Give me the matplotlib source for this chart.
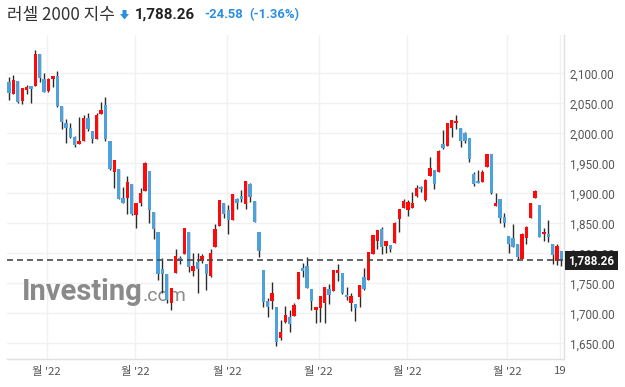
import matplotlib
matplotlib.use("Agg")
import matplotlib.pyplot as plt
from matplotlib.transforms import blended_transform_factory
from matplotlib.patches import Polygon

opens = [2085, 2066, 2086.7, 2054.3, 2072.7, 2078.8, 2079.3, 2132.2, 2090, 2071,
         2091, 2095.5, 2045.5, 2017, 2008.3, 1993.3, 1982.7, 1987.7, 2025.5, 2003.3,
         1991, 2032.7, 2047.2, 1987.2, 1935, 1940, 1892.2, 1892.7, 1915.5, 1864.3,
         1883.8, 1904.3, 1937.2, 1868.8, 1835.5, 1773.8, 1765.5, 1716.7, 1766.7, 1792.7,
         1798.8, 1835.5, 1771, 1785, 1787.2, 1782.2, 1762.7, 1811, 1846, 1883.3,
         1872.2, 1855.5, 1890, 1896, 1881.7, 1915.5, 1887.2, 1835.5, 1772.2, 1720.5,
         1721, 1711, 1659.3, 1685, 1693.3, 1696, 1723.3, 1775, 1779.3, 1740,
         1705.5, 1708.3, 1717.7, 1740, 1737.7, 1767.7, 1766.7, 1730.5, 1717.7, 1715.5,
         1726.7, 1760, 1755.5, 1798.8, 1821, 1840.5, 1812.7, 1813.8, 1816.7, 1856.7,
         1876, 1872.2, 1876, 1896, 1910, 1888.8, 1929.3, 1938.8, 1936, 1982.2,
         1979.3, 2008.3, 2016.7, 2008.3, 2000, 1991.7, 1932.2, 1921, 1919.3, 1944.3,
         1965.5, 1879.3, 1890.5, 1861, 1828.8, 1825.5, 1815.5, 1790.5, 1825, 1858.3,
         1891.7, 1880.5, 1831.7, 1832.2, 1815.5, 1787.7, 1804]
highs = [2093.3, 2097, 2086.7, 2075, 2080, 2078.8, 2138.8, 2132.2, 2100, 2091.7,
         2095.5, 2103.3, 2045.5, 2023.3, 2016.7, 1995, 2026.7, 2030.5, 2033.3, 2003.3,
         2033.3, 2051.7, 2061, 1987.2, 1955, 1940, 1910, 1928.8, 1915.5, 1883.8,
         1908.3, 1952.7, 1937.2, 1868.8, 1835.5, 1792.7, 1765.5, 1742.2, 1806.7, 1795.5,
         1841.7, 1835.5, 1800, 1800, 1799, 1782.2, 1807.7, 1848.8, 1888.8, 1883.3,
         1880.5, 1898.8, 1891.7, 1905.5, 1920.5, 1917.7, 1887.2, 1835.5, 1772.2, 1726,
         1752.7, 1711, 1688.8, 1712.7, 1705.5, 1716.7, 1769.3, 1783.3, 1794.5, 1740,
         1710, 1728.8, 1743.3, 1748.8, 1772.2, 1782.2, 1766.7, 1744.5, 1734.3, 1715.5,
         1747.2, 1775, 1801.7, 1830.5, 1838.8, 1843.3, 1820.5, 1813.8, 1852.7, 1873.8,
         1890, 1888.8, 1901.7, 1913.8, 1912.7, 1923.8, 1960, 1938.8, 1972.2, 2005.5,
         2016.7, 2022.2, 2030.5, 2008.3, 2002.7, 1991.7, 1936, 1938.8, 1938.8, 1965.5,
         1965.5, 1900, 1890.5, 1866.7, 1828.8, 1848.8, 1815.5, 1833.3, 1846, 1883.3,
         1905.5, 1880.5, 1842.7, 1855.5, 1815.5, 1815.5, 1804]
lows = [2055, 2066, 2051, 2048.3, 2065, 2050, 2079.3, 2085, 2069, 2068.3,
        2077, 2043.3, 2006.7, 1984.3, 1991.7, 1977.7, 1981.7, 1987.7, 2004.3, 1983.3,
        1991, 2032.7, 1987.7, 1938.8, 1909.3, 1890, 1883.8, 1866, 1863.8, 1841.7,
        1879.3, 1904.3, 1851, 1823.3, 1755.5, 1733.3, 1717.7, 1705.5, 1766.7, 1781.7,
        1798.8, 1769.3, 1762.2, 1733.3, 1783.3, 1738.8, 1761, 1811, 1846, 1858.3,
        1831.7, 1855.5, 1873.8, 1885, 1873.3, 1885, 1852.7, 1794.3, 1711, 1694.3,
        1706.7, 1645.5, 1655.5, 1683.3, 1668.3, 1696, 1723.3, 1760, 1741.7, 1705.5,
        1683.3, 1686, 1684.5, 1715, 1737.7, 1754.3, 1732, 1722.2, 1703.8, 1687.7,
        1711, 1738.8, 1755.5, 1798.8, 1806.7, 1798.3, 1801, 1802.7, 1816.7, 1835,
        1876, 1862.2, 1876, 1894.3, 1902.7, 1887.7, 1929.3, 1906.7, 1936, 1973.3,
        1979.3, 1994.3, 2006.7, 1976.7, 1983.3, 1952.7, 1912.7, 1916.7, 1919.3, 1944.3,
        1898.8, 1879.3, 1850, 1844.5, 1801, 1810, 1788.8, 1790.5, 1815.5, 1858.3,
        1891.7, 1827.7, 1820.5, 1819.3, 1782.2, 1780.5, 1779.3]
closes = [2066.7, 2088.8, 2052.2, 2075, 2077.2, 2074.3, 2132.2, 2091.7, 2069.3, 2090.5,
          2095.5, 2046, 2018.3, 2009.3, 1994.3, 1980.5, 1987.2, 2025.5, 2006.7, 1991,
          2030.5, 2038.8, 1990, 1941, 1955, 1891, 1883.8, 1918.8, 1865.5, 1883.8,
          1900.5, 1950, 1872.2, 1840.5, 1765, 1765, 1722.2, 1742.2, 1795.5, 1787.2,
          1841.7, 1776.7, 1778.8, 1774.3, 1795.5, 1766, 1800, 1840, 1888.8, 1865.5,
          1855.5, 1898.8, 1884.3, 1891, 1920.5, 1893.3, 1852.7, 1803.3, 1718.3, 1711,
          1733.3, 1652.7, 1668.8, 1696.7, 1681.7, 1713.3, 1769.3, 1770.5, 1741.7, 1720.5,
          1710, 1728.8, 1743.3, 1730, 1772.2, 1772.2, 1734.3, 1726.7, 1728.8, 1709.3,
          1747.2, 1741, 1801.7, 1830.5, 1838.8, 1809.7, 1820.5, 1807.2, 1851, 1873.8,
          1887.2, 1885, 1883.3, 1909.3, 1906.7, 1922.2, 1941.7, 1915, 1970.5, 1975.5,
          2016.7, 2022.2, 2021, 1987.7, 1987.2, 1956.7, 1915.5, 1916.7, 1936, 1965.5,
          1901, 1884.3, 1858.3, 1851, 1815.5, 1810, 1794.3, 1832.2, 1843.3, 1883.3,
          1904.3, 1827.7, 1836, 1827.7, 1797.2, 1812.8, 1788.26]

last_price = 1788.26
title_name = "러셀 2000 지수"
title_price = "1,788.26"
title_change = "-24.58"
title_pct = "(-1.36%)"
y_ticks = [1650, 1700, 1750, 1800, 1850, 1900, 1950, 2000, 2050, 2100]
x_tick_pos = [8.6, 28.8, 49.7, 70.6, 90.8, 113.6, 125.8]
x_tick_labels = ["월 '22", "월 '22", "월 '22", "월 '22", "월 '22", "월 '22", "19"]

UP = "#ff0a0a"
DOWN = "#4ea2dc"
WICK = "#2b2b2b"

fig = plt.figure(figsize=(6.25, 3.87), dpi=100)
L, R, B, T = 7, 564, 359, 35
ax = fig.add_axes([L / 625, 1 - B / 387, (R - L) / 625, (B - T) / 387])

x = list(range(len(opens)))
ax.vlines(x, lows, highs, color=WICK, linewidth=1.0, zorder=3)
bottoms = [min(o, c) for o, c in zip(opens, closes)]
heights = [max(abs(c - o), 1.2) for o, c in zip(opens, closes)]
colors = [UP if c >= o else DOWN for o, c in zip(opens, closes)]
ax.bar(x, heights, bottom=bottoms, width=0.76, color=colors, linewidth=0, zorder=4)

ax.set_xlim(-0.46, 126.6)
ax.set_ylim(1623.8, 2163.8)

ax.set_yticks(y_ticks)
ax.set_yticklabels([f"{v:,.2f}" for v in y_ticks])
ax.yaxis.tick_right()
ax.set_xticks(x_tick_pos)
ax.set_xticklabels(x_tick_labels)
ax.tick_params(axis="y", length=0, pad=4, labelsize=8.4, labelcolor="#555555")
ax.tick_params(axis="x", length=0, pad=5, labelsize=8.2, labelcolor="#555555")
for lab in ax.get_yticklabels():
    lab.set_family(["Roboto", "DejaVu Sans"])
for lab in ax.get_xticklabels():
    lab.set_family(["Noto Sans CJK KR", "DejaVu Sans"])

ax.grid(True, color="#f1f1f1", linewidth=1.0, zorder=0)
ax.set_axisbelow(True)
for s in ["left", "top"]:
    ax.spines[s].set_visible(False)
for s in ["right", "bottom"]:
    ax.spines[s].set_color("#e0e0e0")
    ax.spines[s].set_linewidth(1.0)

ax.axhline(last_price, color="#4a4a4a", linewidth=1.2, dashes=(3.6, 2.4), zorder=5)

tr = blended_transform_factory(ax.transAxes, ax.transData)
ax.text(1.008, last_price, f"{last_price:,.2f}", transform=tr, ha="left", va="center",
        fontsize=8.4, color="white", fontweight="bold", family=["Roboto", "DejaVu Sans"],
        bbox=dict(boxstyle="square,pad=0.28", facecolor="#1f1f1f", edgecolor="none"),
        zorder=10, clip_on=False)

# watermark
ax.text(0.027, 0.207, "Investing", transform=ax.transAxes, fontsize=21, fontweight="bold",
        color="#8a8a8a", family=["Roboto", "DejaVu Sans"], va="center", ha="left", zorder=2)
ax.text(0.244, 0.193, ".com", transform=ax.transAxes, fontsize=14,
        color="#8a8a8a", family=["Roboto", "DejaVu Sans"], va="center", ha="left", zorder=2)

# title
ty = 1 - 15 / 387
fig.text(7 / 625, ty, title_name, fontsize=12.2, color="#333333",
         family=["Noto Sans CJK KR", "DejaVu Sans"], va="center", ha="left")
arrow = Polygon([[122.5 / 625, 1 - 10 / 387], [126.5 / 625, 1 - 10 / 387], [126.5 / 625, 1 - 14 / 387],
                 [129 / 625, 1 - 14 / 387], [124.5 / 625, 1 - 19.5 / 387], [120 / 625, 1 - 14 / 387],
                 [122.5 / 625, 1 - 14 / 387]], closed=True, transform=fig.transFigure,
                facecolor="#2b8fe0", edgecolor="none")
fig.patches.append(arrow)
fig.text(135 / 625, ty, title_price, fontsize=10.9, color="#222222", fontweight="bold",
         family=["Roboto", "DejaVu Sans"], va="center", ha="left")
fig.text(204 / 625, ty, title_change, fontsize=9.4, color="#2b8fe0", fontweight="bold",
         family=["Roboto", "DejaVu Sans"], va="center", ha="left")
fig.text(249 / 625, ty, title_pct, fontsize=9.4, color="#2b8fe0", fontweight="bold",
         family=["Roboto", "DejaVu Sans"], va="center", ha="left")

fig.savefig("out.png", dpi=100, facecolor="white")
